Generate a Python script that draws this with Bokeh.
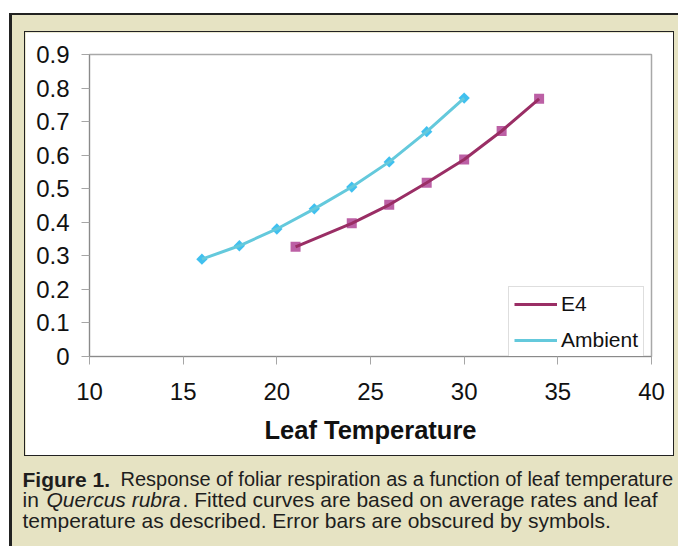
import math
from bokeh.plotting import figure
from bokeh.layouts import column
from bokeh.models import Range1d, FixedTicker, Label, Legend, LegendItem
from bokeh.embed import file_html
from bokeh.resources import INLINE

# ---- data ----
ambient_temp = [16, 18, 20, 22, 24, 26, 28, 30]
ambient_resp = [0.29, 0.33, 0.38, 0.44, 0.505, 0.58, 0.67, 0.77]
e4_temp = [21, 24, 26, 28, 30, 32, 34]
e4_resp = [0.327, 0.397, 0.452, 0.518, 0.587, 0.672, 0.768]
series_names = ["E4", "Ambient"]
x_ticks = [10, 15, 20, 25, 30, 35, 40]
y_ticks = [0, 0.1, 0.2, 0.3, 0.4, 0.5, 0.6, 0.7, 0.8, 0.9]
y_tick_labels = ["0", "0.1", "0.2", "0.3", "0.4", "0.5", "0.6", "0.7", "0.8", "0.9"]
x_title = "Leaf Temperature"
caption_bold = "Figure 1."
caption_l1 = "Response of foliar respiration as a function of leaf temperature"
caption_l2a = "in"
caption_l2b = "Quercus rubra"
caption_l2c = ". Fitted curves are based on average rates and leaf"
caption_l3 = "temperature as described. Error bars are obscured by symbols."

FONT = "Liberation Sans"
BEIGE = "#e6e3c3"
DARK = "#222222"

# ---- chart panel ----
CW, CH = 648, 423
p = figure(width=CW, height=CH, x_range=Range1d(10, 40), y_range=Range1d(0, 0.9),
           output_backend="svg", toolbar_location=None, frame_align=False,
           min_border_left=64, min_border_right=24, min_border_top=22, min_border_bottom=101,
           margin=(16, 4, 0, 12),
           styles={"border": "1px solid " + DARK, "box-sizing": "content-box"})
p.border_fill_color = "white"
p.background_fill_color = "white"
p.grid.visible = False
p.outline_line_color = "#a8a8a8"
p.outline_line_width = 1.5

for ax in (p.xaxis, p.yaxis):
    ax.axis_line_color = "#8a8a8a"
    ax.axis_line_width = 1
    ax.major_tick_line_color = "#a6a6a6"
    ax.major_tick_out = 8
    ax.major_tick_in = 0
    ax.minor_tick_line_color = None
    ax.major_label_text_font = FONT
    ax.major_label_text_font_size = "24px"
    ax.major_label_text_color = "#111111"

p.xaxis.ticker = FixedTicker(ticks=x_ticks)
p.xaxis.major_label_standoff = 18
p.xaxis.axis_label = x_title
p.xaxis.axis_label_text_font = FONT
p.xaxis.axis_label_text_font_style = "bold"
p.xaxis.axis_label_text_font_size = "25.5px"
p.xaxis.axis_label_text_color = "#111111"
p.xaxis.axis_label_standoff = 13

p.yaxis.ticker = FixedTicker(ticks=y_ticks)
p.yaxis.major_label_overrides = {t: s for t, s in zip(y_ticks, y_tick_labels)}
p.yaxis.major_label_standoff = 12

p.scatter(e4_temp, e4_resp, marker="square", size=10, fill_color="#b54f9b",
          fill_alpha=0.9, line_color=None)
p.scatter(ambient_temp, ambient_resp, marker="square", angle=math.pi / 4, size=8,
          fill_color="#36bdee", fill_alpha=0.95, line_color=None)
l_e4 = p.line(e4_temp, e4_resp, line_color="#9a2e65", line_width=3)
l_amb = p.line(ambient_temp, ambient_resp, line_color="#64c9dc", line_width=3)

legend = Legend(items=[LegendItem(label=series_names[0], renderers=[l_e4]),
                       LegendItem(label=series_names[1], renderers=[l_amb])],
                location=(419, -2))
legend.label_text_font = FONT
legend.label_text_font_size = "21px"
legend.label_text_color = "#111111"
legend.glyph_width = 43
legend.glyph_height = 20
legend.label_height = 20
legend.label_standoff = 4
legend.padding = 5
legend.spacing = 12
legend.margin = 0
legend.border_line_color = "#bdbdbd"
legend.border_line_width = 1
legend.background_fill_color = "white"
legend.background_fill_alpha = 1
p.add_layout(legend)

# ---- caption panel ----
KW, KH = 666, 90
c = figure(width=KW, height=KH, x_range=Range1d(0, KW), y_range=Range1d(KH, 0),
           output_backend="svg", toolbar_location=None, frame_align=False,
           x_axis_type=None, y_axis_type=None, min_border=0, margin=(0, 0, 0, 0))
c.grid.visible = False
c.outline_line_color = None
c.background_fill_color = BEIGE
c.border_fill_color = BEIGE

def cap(x, y, text, style="normal", size="21px"):
    c.add_layout(Label(x=x, y=y, text=text, text_font=FONT, text_font_size=size,
                       text_font_style=style, text_color="#1e1e1e",
                       text_baseline="alphabetic", text_align="left"))

cap(10, 22.7, caption_bold, "bold")
cap(108, 22.7, caption_l1, size="20px")
cap(10, 43, caption_l2a)
cap(34, 43, caption_l2b, "italic")
cap(170, 43, caption_l2c)
cap(10, 63.5, caption_l3)

root = column(p, c, margin=(13, 0, 0, 9),
              styles={"background-color": BEIGE, "border-top": "2px solid " + DARK,
                      "border-left": "3px solid " + DARK})

open("out.html", "w").write(file_html(root, INLINE))
